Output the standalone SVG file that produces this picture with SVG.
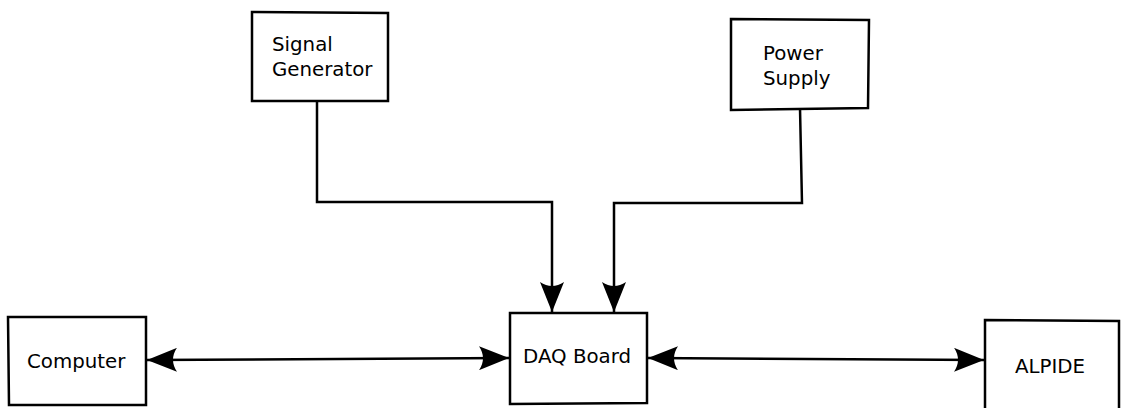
<svg xmlns="http://www.w3.org/2000/svg" width="1121" height="408" viewBox="0 0 1121 408">
  <style>
    .box { fill: #ffffff; stroke: #000000; stroke-width: 2.5; stroke-linejoin: miter; }
    .lbl { font-family: "DejaVu Sans", sans-serif; font-size: 19.8px; fill: #000000; }
    .wire { fill: none; stroke: #000000; stroke-width: 2.5; }
  </style>
  <defs>
    <marker id="head" viewBox="0 0 30 24" refX="30" refY="12" markerWidth="30" markerHeight="24" markerUnits="userSpaceOnUse" orient="auto-start-reverse">
      <path d="M30 12 L0 0 Q8 12 0 24 Z" fill="#000000"/>
    </marker>
  </defs>
  <rect width="1121" height="408" fill="#ffffff"/>

  <g id="connectors">
    <path class="wire" d="M317 101 L317 202 L552 202 L552 312" marker-end="url(#head)"/>
    <path class="wire" d="M800 108 L802 203 L614 203 L614 312" marker-end="url(#head)"/>
    <path class="wire" d="M147 360 L509 358" marker-start="url(#head)" marker-end="url(#head)"/>
    <path class="wire" d="M648 358 L984 360" marker-start="url(#head)" marker-end="url(#head)"/>
  </g>

  <g id="signal-generator">
    <path class="box" d="M252 12 L388 13 L388 101 L252 101 Z"/>
    <text class="lbl" x="272" y="51">Signal</text>
    <text class="lbl" x="272" y="76">Generator</text>
  </g>

  <g id="power-supply">
    <path class="box" d="M731 19 L869 20 L868 108 L731 110 Z"/>
    <text class="lbl" x="763" y="60">Power</text>
    <text class="lbl" x="763" y="85">Supply</text>
  </g>

  <g id="computer">
    <path class="box" d="M8 317 L146 317 L146 405 L9 405 Z"/>
    <text class="lbl" x="27" y="368">Computer</text>
  </g>

  <g id="daq-board">
    <path class="box" d="M510 313 L647 313 L647 403 L510 404 Z"/>
    <text class="lbl" x="523" y="363">DAQ Board</text>
  </g>

  <g id="alpide">
    <path class="box" d="M985 320 L1119 321 L1119 412 L985 412 Z"/>
    <text class="lbl" x="1015" y="373">ALPIDE</text>
  </g>
</svg>
